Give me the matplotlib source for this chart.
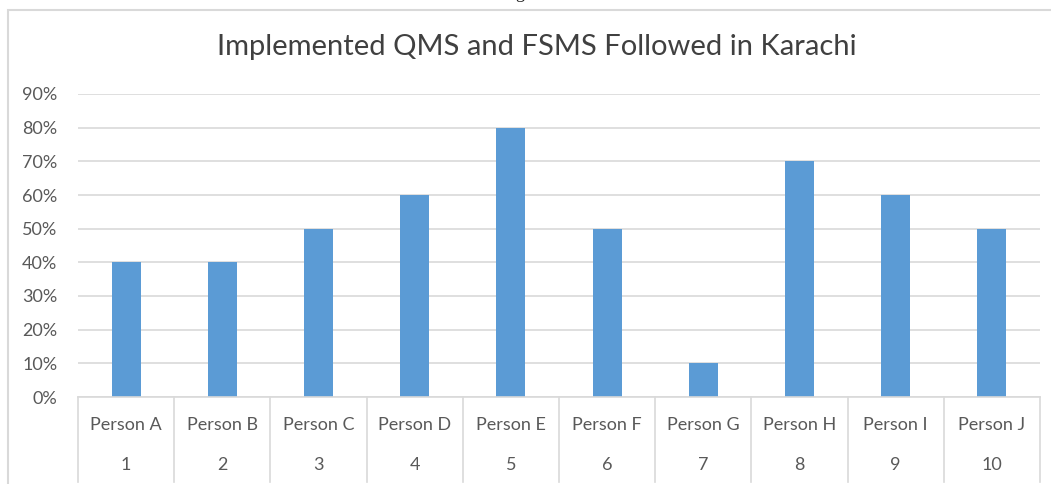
import matplotlib
matplotlib.use("Agg")
import matplotlib.pyplot as plt
from matplotlib.patches import Rectangle
from matplotlib.ticker import PercentFormatter

# ====== DATA ======
persons = ["Person A", "Person B", "Person C", "Person D", "Person E",
           "Person F", "Person G", "Person H", "Person I", "Person J"]
numbers = ["1", "2", "3", "4", "5", "6", "7", "8", "9", "10"]
values = [0.40, 0.40, 0.50, 0.60, 0.80, 0.50, 0.10, 0.70, 0.60, 0.50]
y_ticks = [0, 0.1, 0.2, 0.3, 0.4, 0.5, 0.6, 0.7, 0.8, 0.9]

# ====== STYLE ======
plt.rcParams['font.family'] = ['Lato', 'DejaVu Sans']
bar_color = "#5B9BD5"
text_color = "#595959"
grid_color = "#D9D9D9"

fig = plt.figure(figsize=(10.51, 4.84), dpi=100)
W, H = 1051, 484

# chart border (light gray frame, cut at right and bottom)
fig.patches.append(Rectangle((8 / W, -0.05), 1.2, 1 - 10 / H + 0.05,
                             transform=fig.transFigure, fill=False,
                             edgecolor=grid_color, linewidth=1.5))
# leftover of caption above the chart
fig.text(520 / W, 1 + 2 / H, "g", ha="center", va="baseline",
         fontsize=13, color="#222222", family="Liberation Serif")

ax = fig.add_axes([78 / W, 1 - 397 / H, (1040 - 78) / W, (397 - 94) / H])

x = range(len(values))
ax.bar(x, values, width=0.3, color=bar_color, zorder=3)

ax.set_xlim(-0.5, len(values) - 0.5)
ax.set_ylim(0, 0.9)
ax.set_yticks(y_ticks)
ax.yaxis.set_major_formatter(PercentFormatter(1.0, decimals=0))
ax.tick_params(axis="y", length=0, pad=15, labelsize=13, labelcolor=text_color)
ax.set_xticks([])
ax.grid(axis="y", color=grid_color, linewidth=1.2, zorder=0)
for s in ["top", "right", "left"]:
    ax.spines[s].set_visible(False)
ax.spines["bottom"].set_color(grid_color)
ax.spines["bottom"].set_linewidth(1.2)
ax.spines["bottom"].set_zorder(4)

# two-level category labels with separators
trans = ax.get_xaxis_transform()
span = 397 - 94
sep_bottom = -(482 - 397) / span
for i in range(len(values) + 1):
    ax.plot([i - 0.5, i - 0.5], [0, sep_bottom], transform=trans,
            color=grid_color, linewidth=1.2, clip_on=False)
for i, (p, n) in enumerate(zip(persons, numbers)):
    ax.text(i, -(425 - 397) / span, p, transform=trans, ha="center",
            va="center", fontsize=13, color=text_color)
    ax.text(i, -(465 - 397) / span, n, transform=trans, ha="center",
            va="center", fontsize=13, color=text_color)

fig.text(537 / W, 1 - 47 / H, "Implemented QMS and FSMS Followed in Karachi",
         ha="center", va="center", fontsize=21, color="#404040")

fig.savefig("out.png", dpi=100)
